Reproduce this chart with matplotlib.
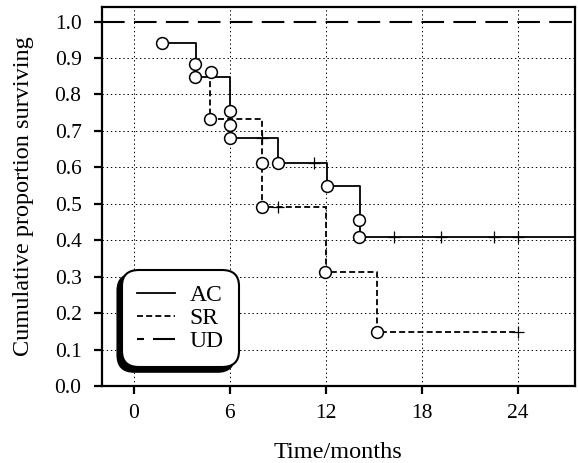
import matplotlib
matplotlib.use("Agg")
import matplotlib.pyplot as plt
from matplotlib.patches import Shadow
from matplotlib.lines import Line2D

plt.rcParams['font.family'] = ['Liberation Serif', 'DejaVu Serif']
plt.rcParams['lines.scale_dashes'] = False

# ---- data ----
ac_times = [1.75, 3.9, 6.0, 9.0, 12.1, 14.15, 28.0]
ac_surv = [0.94, 0.847, 0.68, 0.611, 0.549, 0.408, 0.408]
ac_event_t = [1.75, 3.85, 3.85, 6.0, 6.0, 6.0, 9.0, 12.1, 14.1, 14.1]
ac_event_s = [0.94, 0.884, 0.847, 0.755, 0.716, 0.68, 0.611, 0.549, 0.455, 0.408]
ac_cens_t = [8.0, 11.3, 16.3, 19.2, 22.5, 24.0]
ac_cens_s = [0.68, 0.611, 0.408, 0.408, 0.408, 0.408]

sr_times = [4.8, 4.8, 8.0, 12.0, 15.2, 24.0]
sr_surv = [0.861, 0.733, 0.49, 0.314, 0.148, 0.148]
sr_event_t = [4.85, 4.75, 8.0, 8.0, 11.95, 15.2]
sr_event_s = [0.861, 0.733, 0.611, 0.49, 0.314, 0.148]
sr_cens_t = [9.0, 24.0]
sr_cens_s = [0.49, 0.148]

ud_surv = 1.0

labels = ["AC", "SR", "UD"]
xticks = [0, 6, 12, 18, 24]
yticks = [0.0, 0.1, 0.2, 0.3, 0.4, 0.5, 0.6, 0.7, 0.8, 0.9, 1.0]

fig = plt.figure(figsize=(5.78, 4.63), dpi=100)
ax = fig.add_axes([0.176, 0.166, 0.819, 0.819])

ax.set_xlim(-2.0, 27.6)
ax.set_ylim(0.0, 1.04)

ax.set_xticks(xticks)
ax.set_yticks(yticks)
ax.set_yticklabels([f"{v:.1f}" for v in yticks])
ax.grid(True, color='black', linestyle=(0, (1.0, 2.0)), linewidth=0.7)
ax.set_axisbelow(True)
ax.yaxis.get_gridlines()[-1].set_visible(False)

for s in ax.spines.values():
    s.set_linewidth(1.6)
ax.tick_params(direction='out', length=5.5, width=1.6, labelsize=15.5, pad=7)
ax.tick_params(axis='y', pad=9)

sr_dash = (0, (4.3, 2.3))
ud_dash = (0, (16.3, 6.7))

ax.plot(ac_times, ac_surv, drawstyle='steps-post', color='black', lw=1.3, zorder=3)
ax.plot(sr_times, sr_surv, drawstyle='steps-post', color='black', lw=1.3,
        linestyle=sr_dash, zorder=3)
ax.axhline(ud_surv, color='black', lw=1.5, linestyle=ud_dash, zorder=3)

ax.plot(ac_event_t, ac_event_s, 'o', ms=8.5, mfc='white', mec='black', mew=1.1,
        linestyle='none', zorder=5)
ax.plot(sr_event_t, sr_event_s, 'o', ms=8.5, mfc='white', mec='black', mew=1.1,
        linestyle='none', zorder=5)
ax.plot(ac_cens_t, ac_cens_s, '+', ms=8, mec='black', mew=0.9, linestyle='none', zorder=4)
ax.plot(sr_cens_t, sr_cens_s, '+', ms=8, mec='black', mew=0.9, linestyle='none', zorder=4)

ax.set_xlabel("Time/months", fontsize=17.5, labelpad=14)
ax.set_ylabel("Cumulative proportion surviving", fontsize=17.5, labelpad=15)

handles = [Line2D([], [], color='black', lw=1.3),
           Line2D([], [], color='black', lw=1.3, linestyle=sr_dash),
           Line2D([], [], color='black', lw=1.5, linestyle=(0, (5, 6.5, 16.3, 6.7)))]
leg = ax.legend(handles, labels, loc='lower left', bbox_to_anchor=(0.043, 0.05),
                borderaxespad=0, fontsize=17, frameon=True, fancybox=True,
                framealpha=1, edgecolor='black', handlelength=1.6,
                handletextpad=0.6, labelspacing=0.05, borderpad=0.65)
leg.get_frame().set_linewidth(1.5)
leg.get_frame().set_boxstyle('round', pad=0.0, rounding_size=0.7)
leg.set_zorder(10)

fig.canvas.draw()
sh = Shadow(leg.legendPatch, -3.3, -3.3, facecolor='black', edgecolor='black', alpha=1)
sh.set_zorder(9)
ax.add_artist(sh)

fig.savefig("out.png", dpi=100)
